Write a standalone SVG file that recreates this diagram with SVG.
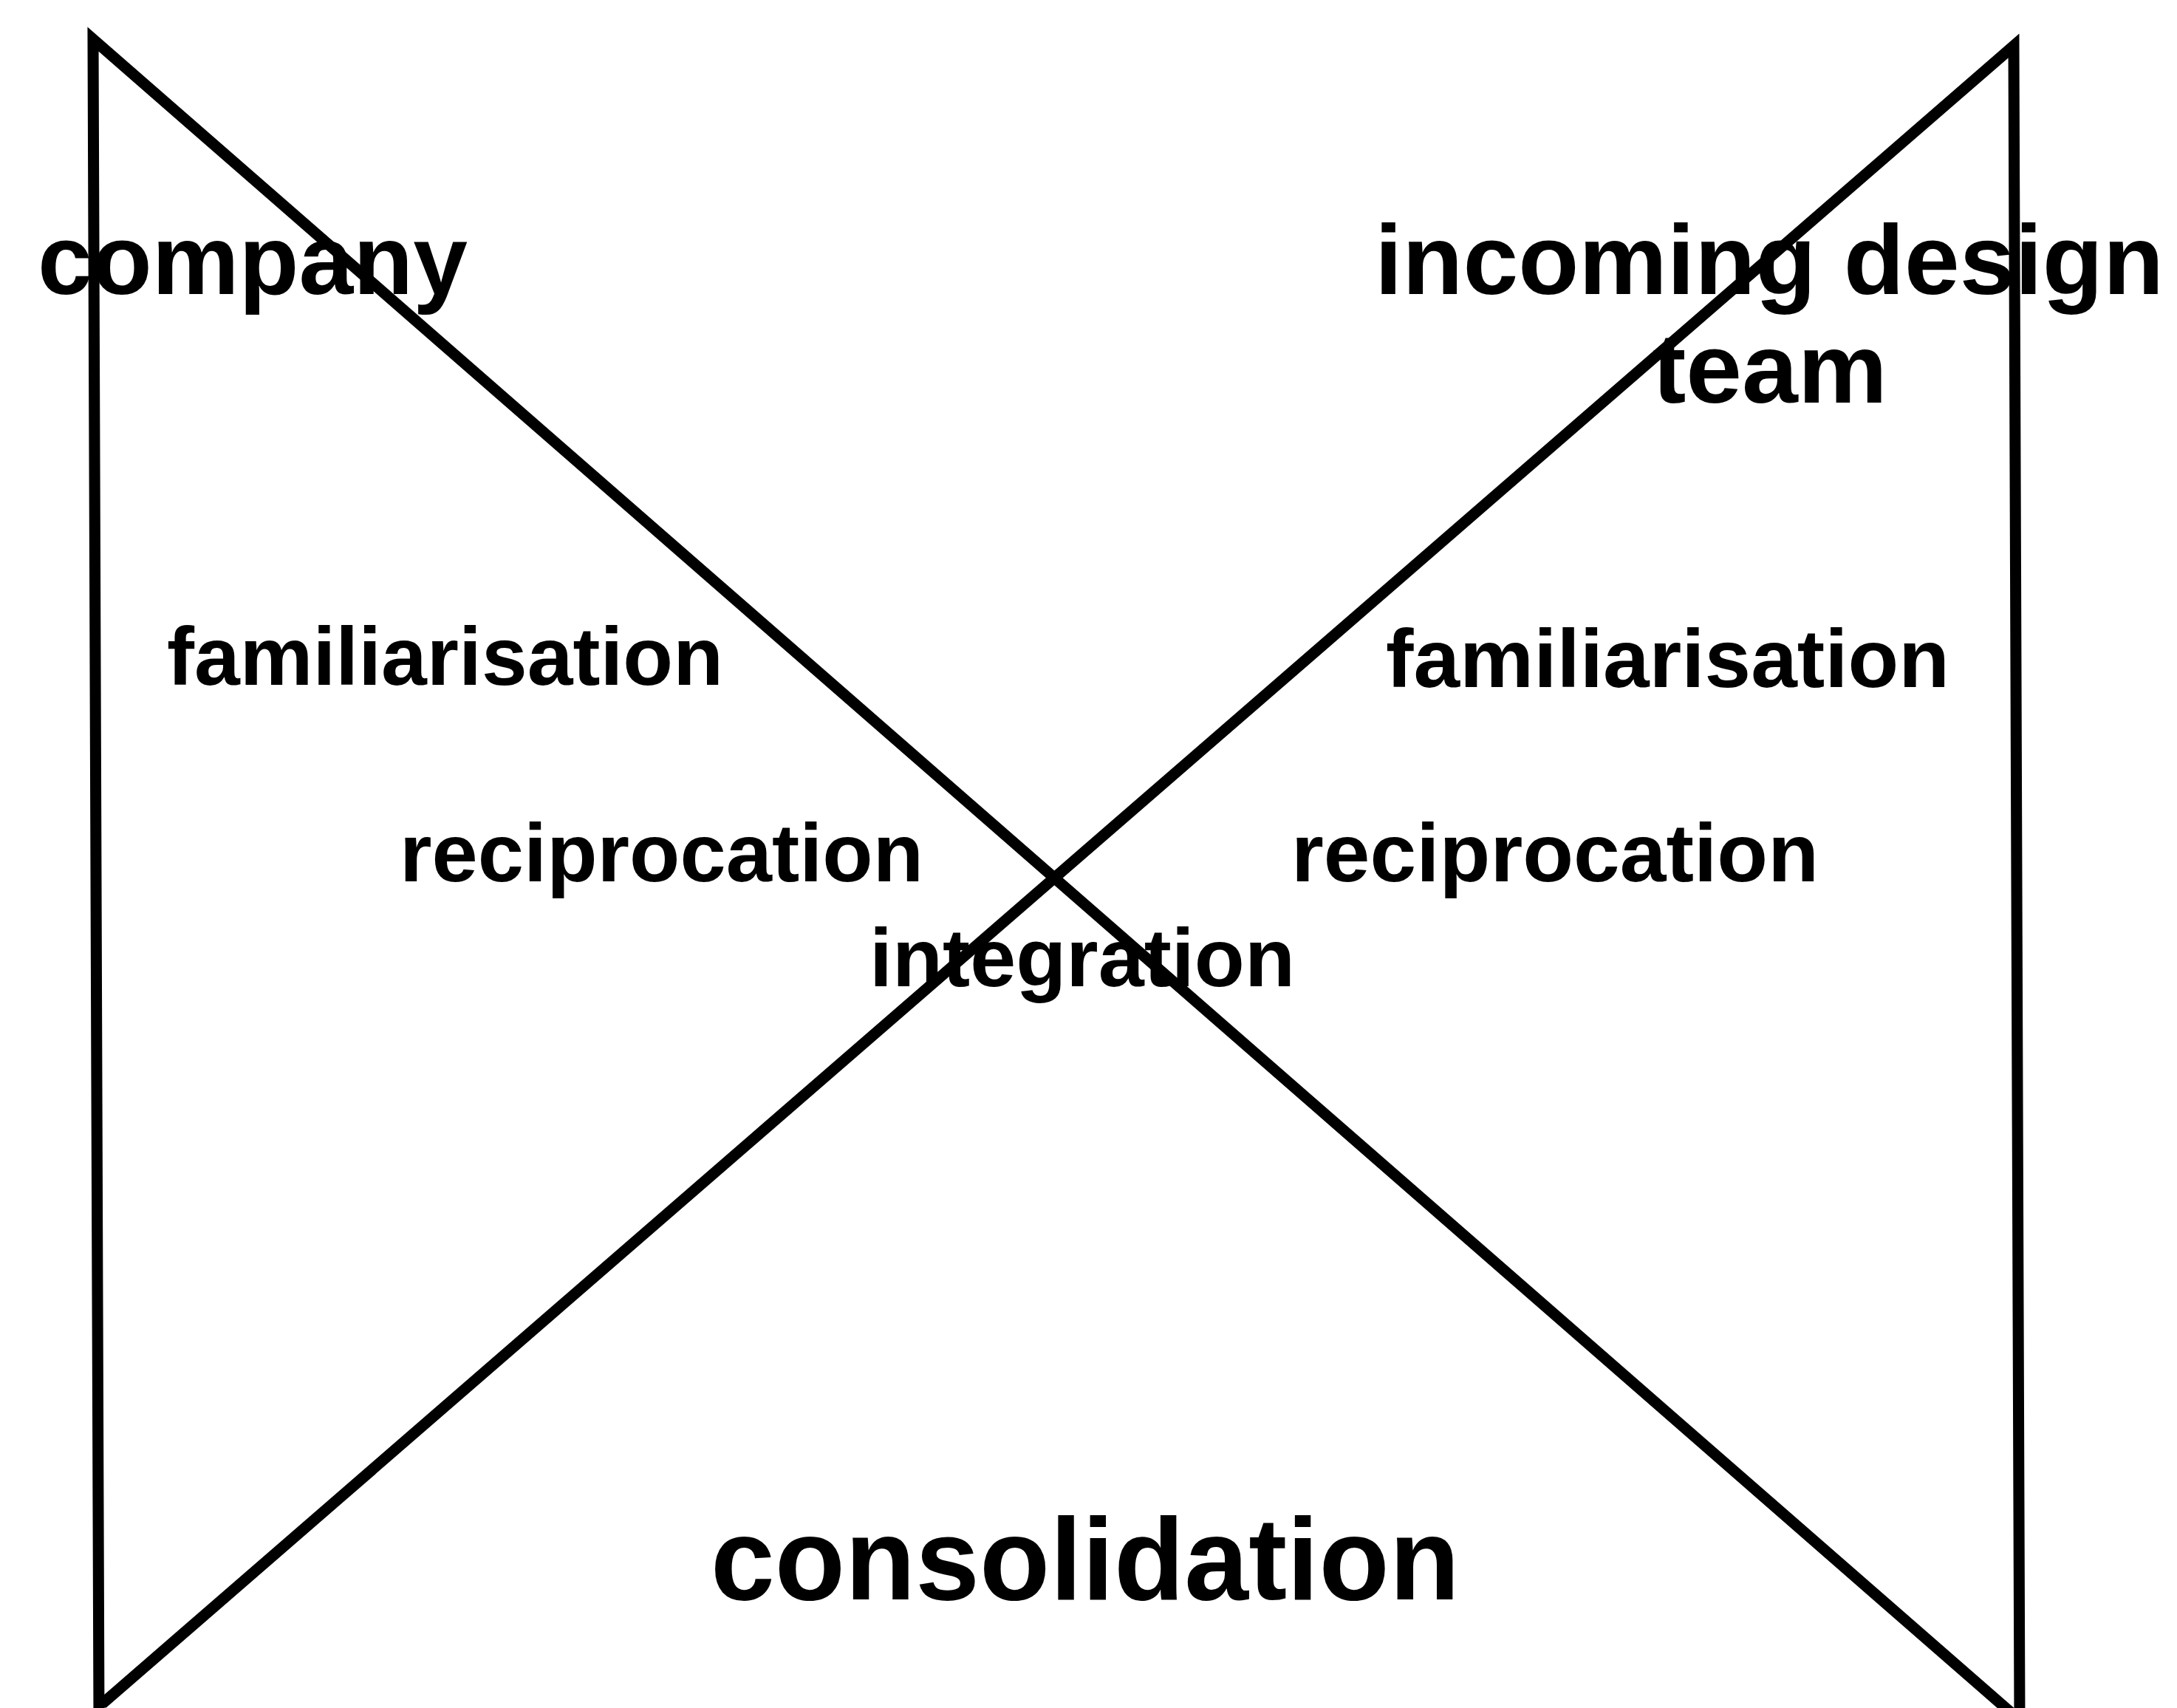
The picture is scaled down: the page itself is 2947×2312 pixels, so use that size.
<svg xmlns="http://www.w3.org/2000/svg" width="2947" height="2312" viewBox="0 0 2947 2312">
<style>
.ln{stroke:#000;stroke-width:15;fill:none;stroke-linecap:butt;stroke-linejoin:miter}
.t{font-family:"Liberation Sans",Arial,Helvetica,sans-serif;font-weight:bold;fill:#000}
.big{font-size:134px}
.huge{font-size:157px}
.sm{font-size:112px}
</style>
<rect width="2947" height="2312" fill="#fff"/>
<g id="connectors">
<path class="ln" d="M134,2330 L126,53 L2722,2318"/>
<path class="ln" d="M2734,2330 L2726,62 L141,2304 L134,2304"/>
</g>
<g id="company"><text class="t big" x="51" y="398" textLength="582" lengthAdjust="spacingAndGlyphs">company</text></g>
<g id="incoming-design-team">
<text class="t big" x="1861" y="398" textLength="1068" lengthAdjust="spacingAndGlyphs">incoming design</text>
<text class="t big" x="2237" y="545" textLength="318" lengthAdjust="spacingAndGlyphs">team</text>
</g>
<g id="familiarisation-left"><text class="t sm" x="226" y="927" textLength="753" lengthAdjust="spacingAndGlyphs">familiarisation</text></g>
<g id="familiarisation-right"><text class="t sm" x="1876" y="930" textLength="763" lengthAdjust="spacingAndGlyphs">familiarisation</text></g>
<g id="reciprocation-left"><text class="t sm" x="541" y="1193" textLength="709" lengthAdjust="spacingAndGlyphs">reciprocation</text></g>
<g id="reciprocation-right"><text class="t sm" x="1748" y="1193" textLength="714" lengthAdjust="spacingAndGlyphs">reciprocation</text></g>
<g id="integration"><text class="t sm" x="1177" y="1335" textLength="576" lengthAdjust="spacingAndGlyphs">integration</text></g>
<g id="consolidation"><text class="t huge" x="962" y="2165" textLength="1014" lengthAdjust="spacingAndGlyphs">consolidation</text></g>
</svg>
